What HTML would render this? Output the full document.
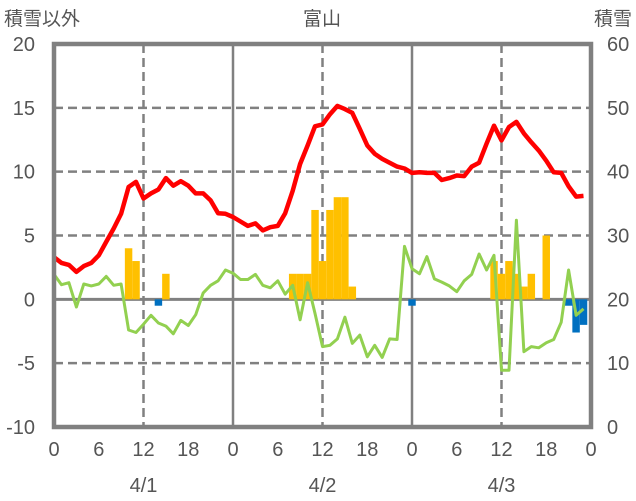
<!DOCTYPE html>
<html><head><meta charset="utf-8"><style>
html,body{margin:0;padding:0;background:#fff;}
svg{display:block;font-family:"Liberation Sans","Noto Sans CJK JP",sans-serif;}
</style></head><body>
<svg id="chart" width="636" height="501" viewBox="0 0 636 501" xmlns="http://www.w3.org/2000/svg">
<g id="grid"></g>
<g id="bars"></g>
<g id="lines"></g>
<g id="frame"></g>
<g id="labels" fill="#555555"></g>
</svg>
<script>
const hours = [];
for (let h = 0; h < 72; h++) hours.push(h);
const redSeries = [3.3,2.85,2.7,2.15,2.6,2.85,3.45,4.5,5.55,6.7,8.8,9.2,7.9,8.3,8.6,9.5,8.9,9.25,8.9,8.3,8.3,7.75,6.75,6.7,
6.45,6.1,5.75,5.95,5.4,5.65,5.75,6.75,8.5,10.6,12.05,13.55,13.7,14.5,15.15,14.9,14.6,13.35,12.05,11.4,11.0,10.7,10.4,10.25,
9.9,9.95,9.9,9.9,9.35,9.5,9.7,9.65,10.4,10.7,12.2,13.6,12.45,13.5,13.9,13.0,12.3,11.65,10.85,9.95,9.9,8.85,8.05,8.1];
const greenSeries = [1.95,1.15,1.3,-0.6,1.2,1.05,1.2,1.8,1.1,1.2,-2.4,-2.6,-1.95,-1.25,-1.85,-2.1,-2.7,-1.65,-2.05,-1.2,0.5,1.1,1.45,2.3,
2.05,1.55,1.55,1.95,1.1,0.9,1.45,0.4,1.1,-1.6,1.3,-1.1,-3.7,-3.6,-3.1,-1.4,-3.45,-2.8,-4.5,-3.6,-4.55,-3.1,-3.15,4.15,
2.4,2.0,3.35,1.6,1.35,1.05,0.6,1.45,1.95,3.55,2.3,3.45,-5.55,-5.55,6.2,-4.1,-3.7,-3.8,-3.4,-3.15,-1.8,2.3,-1.25,-0.75];
const snowDepth = new Array(72).fill(0);
const barHours = [10,11,14,15,32,33,34,35,36,37,38,39,40,48,59,60,61,62,63,64,66,69,70,71];
const barValues = [4,3,-0.5,2,2,2,2,7,3,7,8,8,1,-0.5,3,2,3,2,1,2,5,-0.5,-2.6,-2];
const leftTicks = [20,15,10,5,0,-5,-10];
const rightTicks = [60,50,40,30,20,10,0];
const xTickLabels = ["0","6","12","18","0","6","12","18","0","6","12","18","0"];
const dateLabels = ["4/1","4/2","4/3"];

const X0=54, X1=591, Y0=44, Y1=427;
const xs = h => X0 + (X1-X0)*h/72;
const yL = v => Y0 + (20-v)*(Y1-Y0)/30;
const yR = v => Y0 + (60-v)*(Y1-Y0)/60;
const NS="http://www.w3.org/2000/svg";
function mk(tag, attrs, parent){const e=document.createElementNS(NS,tag);for(const k in attrs)e.setAttribute(k,attrs[k]);parent.appendChild(e);return e;}
const grid=document.getElementById('grid'),bars=document.getElementById('bars'),lines=document.getElementById('lines'),frame=document.getElementById('frame'),labels=document.getElementById('labels');

leftTicks.forEach(v=>{
  if(v===20||v===-10||v===0)return;
  const g=mk('line',{x1:X0,x2:X1,y1:yL(v),y2:yL(v),stroke:'#808080','stroke-width':2.5,'stroke-dasharray':'9,5'},grid);
  
  
});
for(let h=12;h<72;h+=12){
  const day=h%24===0;
  const g=mk('line',{x1:xs(h),x2:xs(h),y1:Y0,y2:Y1,stroke:'#808080','stroke-width':2.5},grid);
  if(!day)g.setAttribute('stroke-dasharray','9,5');
  
  
}
const w=(X1-X0)/72;
barHours.forEach((h,i)=>{
  const v=barValues[i];
  const y=Math.min(yL(v),yL(0)),hh=Math.abs(yL(v)-yL(0));
  const r=mk('rect',{x:xs(h)-w/2,y:y,width:w,height:hh,fill:v>=0?'#FFC000':'#0070C0'},bars);
  
  
});
const zl=mk('line',{x1:X0,x2:X1,y1:yL(0),y2:yL(0),stroke:'#808080','stroke-width':3},grid);



function path(arr,yf){return arr.map((v,i)=>(i?'L':'M')+xs(hours[i]).toFixed(1)+','+yf(v).toFixed(1)).join('');}
const gl=mk('path',{d:path(greenSeries,yL),fill:'none',stroke:'#92D050','stroke-width':3,'stroke-linejoin':'round'},lines);


const rl=mk('path',{d:path(redSeries,yL),fill:'none',stroke:'#FF0000','stroke-width':4.5,'stroke-linejoin':'round'},lines);


const fr=mk('rect',{x:X0,y:Y0,width:X1-X0,height:Y1-Y0,fill:'none',stroke:'#808080','stroke-width':4.5},frame);


const pl=mk('path',{d:path(snowDepth,yR),fill:'none',stroke:'#7030A0','stroke-width':3},lines);



leftTicks.forEach(v=>{
  const t=mk('text',{x:35,y:yL(v)+7,'text-anchor':'end','font-size':20},labels);
  t.textContent=String(v);
  
  
});
rightTicks.forEach(v=>{
  const t=mk('text',{x:607,y:yR(v)+7,'text-anchor':'start','font-size':20},labels);
  t.textContent=String(v);
  
  
});
xTickLabels.forEach((s,i)=>{
  const t=mk('text',{x:xs(i*6),y:456,'text-anchor':'middle','font-size':20},labels);
  t.textContent=s;
  
  
});
dateLabels.forEach((s,i)=>{
  const t=mk('text',{x:xs(12+24*i),y:492,'text-anchor':'middle','font-size':20},labels);
  t.textContent=s;
  
  
});
[["積雪以外",4,"start","left-axis-title"],["富山",322,"middle","chart-title"],["積雪",632,"end","right-axis-title"]].forEach(a=>{
  const t=mk('text',{x:a[1],y:25,'text-anchor':a[2],'font-size':19},labels);
  t.textContent=a[0];
  
  
});
</script>
</body></html>
